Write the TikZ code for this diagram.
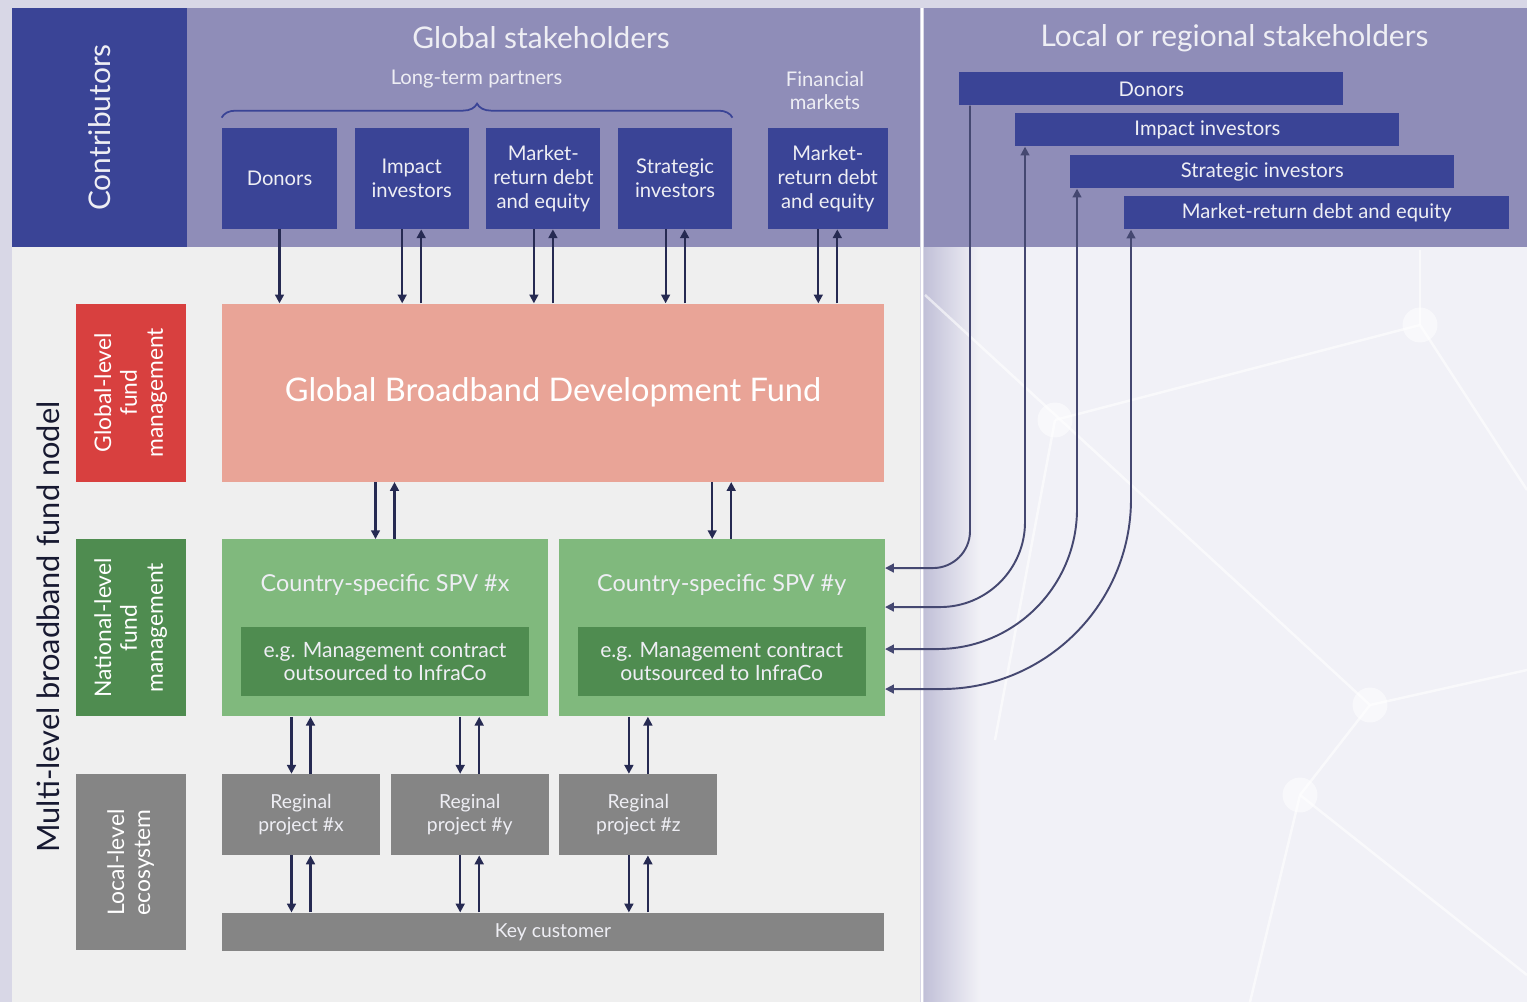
\documentclass[tikz,border=0pt]{standalone}
\usepackage{fontspec}
\setmainfont{Lato}
\usetikzlibrary{positioning,arrows.meta,decorations.pathreplacing,calc}

\definecolor{navy}{HTML}{3A4496}
\definecolor{lavender}{HTML}{8F8DB8}
\definecolor{salmon}{HTML}{E9A497}
\definecolor{redbox}{HTML}{D8403F}
\definecolor{darkgreen}{HTML}{4F8C50}
\definecolor{lightgreen}{HTML}{80B97D}
\definecolor{greybox}{HTML}{858585}
\definecolor{paper}{HTML}{EFEFEF}
\definecolor{ink}{HTML}{262A52}
\definecolor{pale}{HTML}{EEEEF4}

\tikzset{
  >={Triangle[length=5pt,width=5pt]},
  panel/.style={fill=lavender, inner sep=0pt, minimum height=4.78cm},
  gbox/.style={fill=navy, text=pale, inner sep=0pt, align=center, minimum width=2.28cm, minimum height=2.02cm, font=\fontsize{11.5}{13.6}\selectfont},
  lbar/.style={fill=navy, text=pale, inner sep=0pt, anchor=north west, minimum width=7.68cm, minimum height=0.66cm, font=\fontsize{11.5}{13.6}\selectfont},
  side/.style={rotate=90, text=white, inner sep=0pt, align=center, minimum height=2.2cm, font=\fontsize{13}{14.7}\selectfont},
  spv/.style={fill=lightgreen, inner sep=0pt, minimum width=6.52cm, minimum height=3.54cm},
  spvtitle/.style={text=pale, font=\fontsize{13.3}{16}\selectfont},
  contract/.style={fill=darkgreen, text=pale, inner sep=0pt, align=center, minimum width=5.76cm, minimum height=1.38cm, font=\fontsize{12}{13}\selectfont},
  project/.style={fill=greybox, text=pale, inner sep=0pt, align=center, minimum width=3.16cm, minimum height=1.62cm, font=\fontsize{11}{13}\selectfont},
  title/.style={text=pale, font=\fontsize{17}{20}\selectfont},
  flow/.style={draw=ink, line width=1.2pt, ->},
  link/.style={draw=ink!70!lavender, line width=1.1pt},
  net/.style={white, line width=1.4pt, opacity=0.6},
}

\begin{document}
\begin{tikzpicture}
\useasboundingbox (0,0) rectangle (30.54,-20.04);
\fill[lavender!35] (0,0) rectangle (30.54,-20.04);
\fill[paper] (0.24,-4.94) rectangle (18.4,-20.04);
\fill[lavender!12] (18.48,-4.94) rectangle (30.54,-20.04);
\shade[left color=lavender!55, right color=lavender!12] (18.48,-4.94) rectangle (19.6,-20.04);
\draw[white, line width=1.5pt] (18.44,-0.16) -- (18.44,-20.04);

\draw[net] (18.5,-5.9) -- (27.4,-14.1) -- (30.54,-13.4);
\draw[net] (21.1,-8.4) -- (28.4,-6.5) -- (30.54,-9.8);
\draw[net] (28.4,-5.0) -- (28.4,-6.5);
\draw[net] (27.4,-14.1) -- (26.0,-15.9) -- (25.0,-20.04);
\draw[net] (21.1,-8.4) -- (19.9,-14.8);
\draw[net] (26.0,-15.9) -- (30.54,-19.5);
\foreach \p in {(28.4,-6.5),(27.4,-14.1),(21.1,-8.4),(26.0,-15.9)}
  \fill[white, opacity=0.5] \p circle (0.35);

\node[fill=navy, rotate=90, minimum width=4.78cm, minimum height=3.5cm, text=pale, font=\fontsize{17}{20}\selectfont] (contrib) at (1.99,-2.55) {Contributors};
\node[panel, minimum width=14.66cm] (global) at (11.07,-2.55) {};
\node[panel, minimum width=12.06cm] (local) at (24.51,-2.55) {};
\node[title] at (10.82,-0.76) {Global stakeholders};
\node[title] at (24.69,-0.76) {Local or regional stakeholders};

\node[gbox, minimum width=2.3cm] (donors) at (5.59,-3.57) {Donors};
\node[gbox, right=0.34cm of donors] (impact) {Impact\\investors};
\node[gbox, right=0.34cm of impact] (market) {Market-\\return debt\\and equity};
\node[gbox, right=0.34cm of market] (strategic) {Strategic\\investors};
\node[gbox, minimum width=2.4cm, right=0.7cm of strategic] (financial) {Market-\\return debt\\and equity};
\draw[navy, line width=1pt, decorate, decoration={brace, amplitude=0.28cm}] ([yshift=0.2cm]donors.north west) -- ([yshift=0.2cm]strategic.north east);
\node[text=pale, font=\fontsize{11.5}{13}\selectfont] at (9.53,-1.58) {Long-term partners};
\node[text=pale, align=center, font=\fontsize{11.5}{13}\selectfont] at (16.50,-1.81) {Financial\\markets};

\node[lbar] (ldonors) at (19.18,-1.44) {Donors};
\node[lbar] (limpact) at (20.30,-2.26) {Impact investors};
\node[lbar] (lstrategic) at (21.40,-3.10) {Strategic investors};
\node[lbar, minimum width=7.7cm] (lmarket) at (22.48,-3.92) {Market-return debt and equity};

\node[fill=salmon, inner sep=0pt, minimum width=13.24cm, minimum height=3.56cm, text=white, font=\fontsize{18.5}{22}\selectfont, below=1.48cm of donors.south west, anchor=north west] (gbdf) {Global Broadband Development Fund};
\node[spv, below=1.14cm of gbdf.south west, anchor=north west] (spvx) {};
\node[spv, right=0.2cm of spvx] (spvy) {};
\node[spvtitle] at ([yshift=-0.92cm]spvx.north) {Country-specific SPV \#x};
\node[spvtitle] at ([yshift=-0.92cm]spvy.north) {Country-specific SPV \#y};
\node[contract, above=0.4cm of spvx.south] {e.g. Management contract\\outsourced to InfraCo};
\node[contract, above=0.4cm of spvy.south] {e.g. Management contract\\outsourced to InfraCo};
\node[project, below=1.14cm of spvx.south west, anchor=north west] (projx) {Reginal\\project \#x};
\node[project, right=0.2cm of projx] (projy) {Reginal\\project \#y};
\node[project, right=0.2cm of projy] (projz) {Reginal\\project \#z};
\node[fill=greybox, text=pale, inner sep=0pt, minimum width=13.24cm, minimum height=0.76cm, font=\fontsize{11}{13}\selectfont, below=1.14cm of projx.south west, anchor=north west] (key) {Key customer};

\node[side, fill=redbox, minimum width=3.56cm] (glevel) at ([xshift=-1.82cm]gbdf.west) {Global-level\\fund\\management};
\node[side, fill=darkgreen, minimum width=3.54cm] (nlevel) at ([xshift=-1.82cm]spvx.west) {National-level\\fund\\management};
\node[side, fill=greybox, minimum width=3.52cm] (llevel) at ($(projx.north west)!0.5!(key.south west)+(-1.82,0)$) {Local-level\\ecosystem};
\node[rotate=90, text=ink!60!black, font=\fontsize{17.5}{20}\selectfont] at (0.96,-12.54) {Multi-level broadband fund nodel};

\draw[flow] (donors.south) -- (donors.south |- gbdf.north);
\foreach \n in {impact,market,strategic,financial}{
  \draw[flow] ([xshift=-0.19cm]\n.south) -- ([xshift=-0.19cm]\n.south |- gbdf.north);
  \draw[flow] ([xshift=0.19cm]\n.south |- gbdf.north) -- ([xshift=0.19cm]\n.south);
}
\foreach \n in {spvx,spvy}{
  \draw[flow] ([xshift=-0.19cm]\n.north |- gbdf.south) -- ([xshift=-0.19cm]\n.north);
  \draw[flow] ([xshift=0.19cm]\n.north) -- ([xshift=0.19cm]\n.north |- gbdf.south);
}
\foreach \s/\p in {spvx/projx,spvx/projy,spvy/projz}{
  \draw[flow] ([xshift=-0.19cm]\p.north |- \s.south) -- ([xshift=-0.19cm]\p.north);
  \draw[flow] ([xshift=0.19cm]\p.north) -- ([xshift=0.19cm]\p.north |- \s.south);
  \draw[flow] ([xshift=-0.19cm]\p.south) -- ([xshift=-0.19cm]\p.south |- key.north);
  \draw[flow] ([xshift=0.19cm]\p.south |- key.north) -- ([xshift=0.19cm]\p.south);
}

\draw[link, ->, rounded corners=0.74cm] ([xshift=0.22cm]ldonors.south west) |- ([yshift=-0.58cm]spvy.north east);
\draw[link, <->, rounded corners=1.7cm] ([xshift=0.2cm]limpact.south west) |- ([yshift=-1.36cm]spvy.north east);
\draw[link, <->, rounded corners=2.8cm] ([xshift=0.14cm]lstrategic.south west) |- ([yshift=-2.2cm]spvy.north east);
\draw[link, <->, rounded corners=3.8cm] ([xshift=0.14cm]lmarket.south west) |- ([yshift=-3cm]spvy.north east);
\end{tikzpicture}
\end{document}
